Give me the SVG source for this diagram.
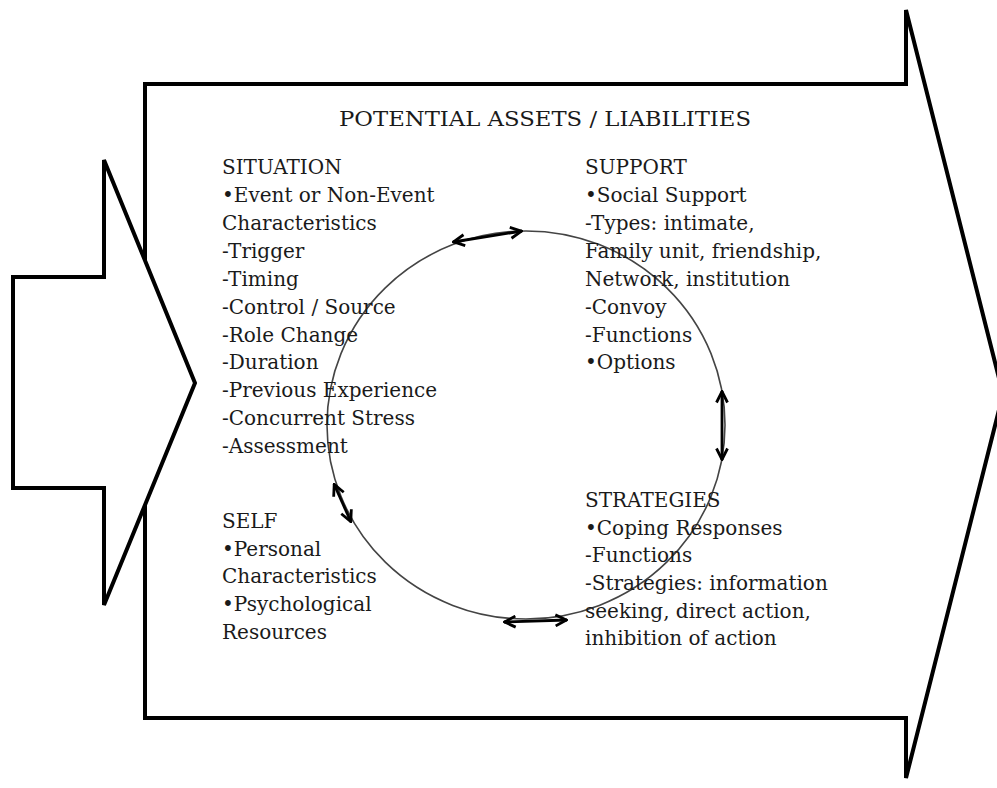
<svg xmlns="http://www.w3.org/2000/svg" width="997" height="788" viewBox="0 0 997 788">
<style>
.shape{fill:#fff;stroke:#000;stroke-width:4;stroke-linejoin:miter}
.t{font-family:"DejaVu Serif","Liberation Serif",serif;font-size:20px;fill:#1a1a1a}
.ring{fill:none;stroke:#444;stroke-width:1.6}
.dbl{fill:none;stroke:#000;stroke-width:2.8;marker-start:url(#v);marker-end:url(#v)}
</style>
<defs>
<marker id="v" viewBox="0 0 14 14" refX="13" refY="7" markerWidth="14" markerHeight="14" markerUnits="userSpaceOnUse" orient="auto-start-reverse">
<path d="M1.5,1.5 L12.5,7 L1.5,12.5" fill="none" stroke="#000" stroke-width="2.8"/>
</marker>
</defs>
<rect width="997" height="788" fill="#fff"/>
<g id="big-arrow"><polygon class="shape" points="145,84 906,84 906,10 1003,394 906,778 906,718 145,718"/></g>
<g id="input-arrow"><polygon class="shape" points="13,277 104,277 104,160 195,383 104,605 104,488 13,488"/></g>
<g id="title"><text class="t" x="545" y="126" text-anchor="middle" textLength="412" lengthAdjust="spacingAndGlyphs">POTENTIAL ASSETS / LIABILITIES</text></g>
<g id="connectors">
<ellipse class="ring" cx="526" cy="425" rx="199" ry="194"/>
<line class="dbl" x1="453" y1="242" x2="522" y2="231"/>
<line class="dbl" x1="722" y1="391" x2="722" y2="460"/>
<line class="dbl" x1="504" y1="622" x2="567" y2="620"/>
<line class="dbl" x1="334" y1="484" x2="351" y2="522"/>
</g>
<g id="situation" class="t">
<text x="222" y="174">SITUATION</text>
<text x="222" y="202">•Event or Non-Event</text>
<text x="222" y="230">Characteristics</text>
<text x="222" y="258">-Trigger</text>
<text x="222" y="286">-Timing</text>
<text x="222" y="314">-Control / Source</text>
<text x="222" y="342">-Role Change</text>
<text x="222" y="369">-Duration</text>
<text x="222" y="397">-Previous Experience</text>
<text x="222" y="425">-Concurrent Stress</text>
<text x="222" y="453">-Assessment</text>
</g>
<g id="support" class="t">
<text x="585" y="174">SUPPORT</text>
<text x="585" y="202">•Social Support</text>
<text x="585" y="230">-Types: intimate,</text>
<text x="585" y="258">Family unit, friendship,</text>
<text x="585" y="286">Network, institution</text>
<text x="585" y="314">-Convoy</text>
<text x="585" y="342">-Functions</text>
<text x="585" y="369">•Options</text>
</g>
<g id="self" class="t">
<text x="222" y="528">SELF</text>
<text x="222" y="556">•Personal</text>
<text x="222" y="583">Characteristics</text>
<text x="222" y="611">•Psychological</text>
<text x="222" y="639">Resources</text>
</g>
<g id="strategies" class="t">
<text x="585" y="507">STRATEGIES</text>
<text x="585" y="535">•Coping Responses</text>
<text x="585" y="562">-Functions</text>
<text x="585" y="590">-Strategies: information</text>
<text x="585" y="618">seeking, direct action,</text>
<text x="585" y="645">inhibition of action</text>
</g>
</svg>
